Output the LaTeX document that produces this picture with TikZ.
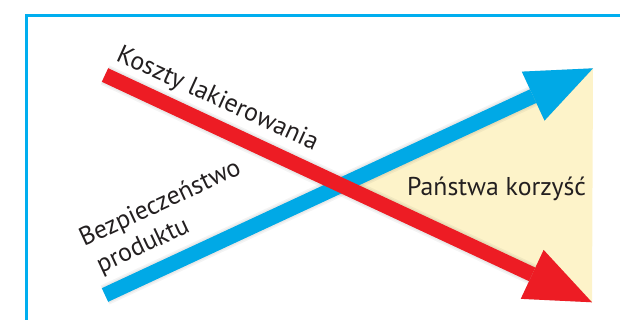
\documentclass[tikz,border=0pt]{standalone}
\usepackage{fontspec}
\setmainfont{PT Sans}
\usetikzlibrary{arrows.meta}
\definecolor{frameblue}{RGB}{0,174,239}
\definecolor{arrblue}{RGB}{0,169,230}
\definecolor{arrred}{RGB}{237,28,36}
\definecolor{paleyel}{RGB}{253,243,201}
\definecolor{txt}{RGB}{35,31,32}
\begin{document}
\begin{tikzpicture}[x=1pt,y=-1pt,
  bigarrow/.style={line width=15pt, -{Triangle[length=66pt,width=54pt,line width=0pt]}},
  arrshadow/.style={bigarrow, black, opacity=0.045},
  lbl/.style={text=txt, inner sep=0pt, font=\fontsize{25.75}{31}\selectfont}]
\useasboundingbox (0,0) rectangle (620,320);
% frame
\coordinate (f1) at (26.3,330);
\coordinate (f2) at (26.3,15.3);
\coordinate (f3) at (630,15.3);
\draw[frameblue, line width=2.6pt] (f1) -- (f2) -- (f3);
% arrow end points
\coordinate (rs) at (105,75);
\coordinate (rt) at (592,302.3);
\coordinate (bs) at (105,295);
\coordinate (bt) at (593,68.3);
\coordinate (cx) at (intersection of rs--rt and bs--bt);
% benefit area
\fill[paleyel] (cx) -- (bt) -- (rt) -- cycle;
% shadows
\begin{scope}[shift={(2,4)}]
  \foreach \w in {21,18,15}{
    \draw[arrshadow, line width=\w pt] (bs) -- (bt);
    \draw[arrshadow, line width=\w pt] (rs) -- (rt);
  }
\end{scope}
% arrows
\draw[bigarrow, arrblue] (bs) -- (bt);
\draw[bigarrow, arrred] (rs) -- (rt);
% labels
\node[lbl, rotate=-24.5, anchor=base west] (kl) at (115,60) {Koszty lakierowania};
\node[lbl, anchor=base west] (pk) at (407,195.7) {Państwa korzyść};
\node[lbl, rotate=25, anchor=base west] (bz) at (84,247) {Bezpieczeństwo};
\node[lbl, rotate=25, anchor=base west] (pr) at (101,273.3) {produktu};
\end{tikzpicture}
\end{document}
